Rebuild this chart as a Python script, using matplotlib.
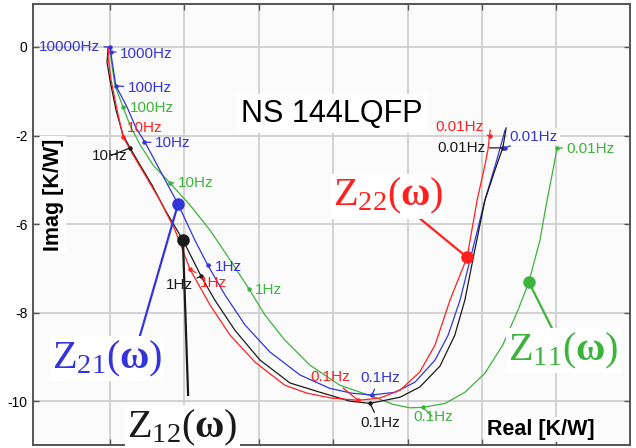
import matplotlib
matplotlib.use("Agg")
import matplotlib.pyplot as plt

plt.rcParams['font.family'] = ['Liberation Sans', 'DejaVu Sans']
plt.rcParams['mathtext.fontset'] = 'custom'
plt.rcParams['mathtext.rm'] = 'Liberation Serif'
plt.rcParams['mathtext.it'] = 'Liberation Serif:italic'
plt.rcParams['mathtext.bf'] = 'Liberation Serif:bold'

# ---- data: real / imaginary parts of the thermal impedances ----
z12_re = [-0.05, -0.08, 0.00, 0.16, 0.35, 0.54, 0.81, 1.13, 1.48, 1.96, 2.45, 2.82, 3.36, 4.03,
          4.84, 5.65, 6.45, 6.99, 7.80, 8.33, 8.87, 9.27, 9.54, 9.78, 10.08, 10.35, 10.56, 10.65]
z12_im = [-0.02, -0.34, -0.75, -1.42, -1.99, -2.28, -2.67, -3.12, -3.68, -4.36, -5.18, -5.72, -6.40, -7.07,
          -7.59, -7.80, -8.00, -8.05, -7.91, -7.68, -7.21, -6.51, -5.72, -4.70, -3.46, -2.78, -2.28, -1.83]

z22_re = [-0.03, -0.05, 0.03, 0.19, 0.35, 0.62, 0.94, 1.34, 1.75, 2.15, 2.69, 3.23, 3.90, 4.70,
          5.30, 5.95, 6.67, 7.26, 7.80, 8.33, 8.74, 9.14, 9.60, 9.87, 10.08, 10.16, 10.22]
z22_im = [0.00, -0.23, -0.75, -1.42, -2.03, -2.44, -2.89, -3.46, -4.14, -5.02, -5.83, -6.51, -7.12, -7.64,
          -7.82, -7.93, -7.98, -7.93, -7.75, -7.34, -6.73, -5.72, -4.75, -3.46, -2.67, -2.33, -1.88]

z21_re = [0.00, 0.05, 0.16, 0.46, 0.70, 0.94, 1.34, 1.83, 2.28, 2.63, 3.09, 3.63, 4.30, 5.11,
          5.91, 6.50, 7.04, 7.66, 8.20, 8.74, 9.09, 9.41, 9.68, 10.08, 10.40, 10.62]
z21_im = [0.00, -0.29, -0.88, -1.36, -1.83, -2.15, -2.78, -3.55, -4.36, -4.93, -5.60, -6.28, -6.89, -7.41,
          -7.71, -7.82, -7.86, -7.80, -7.57, -7.07, -6.51, -5.72, -4.81, -3.46, -2.55, -1.88]

z11_re = [0.00, 0.03, 0.13, 0.35, 0.56, 0.81, 1.16, 1.61, 2.15, 2.69, 3.23, 3.74, 4.17, 4.70, 5.38,
          6.18, 7.18, 7.60, 8.06, 8.41, 9.01, 9.54, 10.08, 10.56, 10.97, 11.26, 11.56, 11.75, 11.91, 12.02]
z11_im = [0.00, -0.29, -0.86, -1.36, -1.81, -2.21, -2.67, -3.07, -3.57, -4.14, -4.81, -5.47, -6.06, -6.62, -7.19,
          -7.64, -7.93, -8.07, -8.15, -8.14, -8.05, -7.80, -7.37, -6.73, -5.94, -5.31, -4.36, -3.46, -2.78, -2.28]

ytick_pos = [0, -2, -4, -6, -8]
ytick_labels = ['0', '-2', '-6', '-8', '-10']
xtick_pos = [0, 2, 4, 6, 8, 10, 12]

BLUE = '#3434dc'
RED = '#ff2020'
GREEN = '#3cb43c'
BLACK = '#1a1a1a'

# frequency markers: (text, colour, point, label position, horizontal alignment, white box)
freq_marks = [
    ('10000Hz', BLUE, (0.00, 0.00), (-0.27, 0.00), 'right', False),
    ('1000Hz', BLUE, (0.03, -0.11), (0.27, -0.16), 'left', False),
    ('100Hz', BLUE, (0.16, -0.88), (0.48, -0.93), 'left', False),
    ('100Hz', GREEN, (0.35, -1.36), (0.54, -1.38), 'left', False),
    ('10Hz', RED, (0.35, -2.03), (0.46, -1.83), 'left', False),
    ('10Hz', BLUE, (0.91, -2.15), (1.21, -2.17), 'left', False),
    ('10Hz', BLACK, (0.54, -2.28), (0.48, -2.46), 'right', False),
    ('10Hz', GREEN, (1.61, -3.07), (1.83, -3.07), 'left', False),
    ('1Hz', BLUE, (2.63, -4.93), (2.82, -4.97), 'left', False),
    ('1Hz', RED, (2.15, -5.02), (2.42, -5.33), 'left', False),
    ('1Hz', BLACK, (2.45, -5.18), (2.23, -5.38), 'right', False),
    ('1Hz', GREEN, (3.74, -5.47), (3.90, -5.49), 'left', False),
    ('0.1Hz', RED, (6.67, -7.98), (5.38, -7.46), 'left', False),
    ('0.1Hz', BLUE, (7.04, -7.86), (6.72, -7.48), 'left', False),
    ('0.1Hz', BLACK, (6.99, -8.05), (6.72, -8.50), 'left', False),
    ('0.1Hz', GREEN, (8.41, -8.14), (8.15, -8.36), 'left', False),
    ('0.01Hz', RED, (10.22, -2.01), (8.74, -1.81), 'left', False),
    ('0.01Hz', BLACK, (10.56, -2.28), (8.79, -2.28), 'left', False),
    ('0.01Hz', BLUE, (10.62, -2.28), (10.75, -2.03), 'left', True),
    ('0.01Hz', GREEN, (12.02, -2.28), (12.28, -2.31), 'left', False),
]

# impedance callouts: (label, colour, point on curve, leader end, text anchor)
callouts = [
    (r'$\mathrm{Z}_{\mathrm{21}}(\mathbf{\omega})$', BLUE, (1.83, -3.55), (0.81, -6.51), (-1.56, -7.25)),
    (r'$\mathrm{Z}_{\mathrm{12}}(\mathbf{\omega})$', BLACK, (1.96, -4.36), (2.10, -7.86), (0.46, -8.81)),
    (r'$\mathrm{Z}_{\mathrm{22}}(\mathbf{\omega})$', RED, (9.60, -4.75), (8.12, -3.73), (5.99, -3.59)),
    (r'$\mathrm{Z}_{\mathrm{11}}(\mathbf{\omega})$', GREEN, (11.26, -5.31), (11.88, -6.35), (10.70, -7.07)),
]

fig = plt.figure(figsize=(6.36, 4.48), dpi=100)
ax = fig.add_axes([33 / 636, 3 / 448, 597 / 636, 441 / 448])
ax.set_facecolor('#fbfbfb')

ax.set_xlim(-2.07, 13.98)
ax.set_ylim(-8.99, 0.97)
ax.set_xticks(xtick_pos)
ax.set_xticklabels([])
ax.set_yticks(ytick_pos)
ax.set_yticklabels(ytick_labels, fontsize=10)
ax.tick_params(direction='in', length=4, width=1, color='#555555',
               top=True, right=True, pad=4)
ax.grid(True, color='#cccccc', linewidth=1.2)
ax.set_axisbelow(True)
for s in ax.spines.values():
    s.set_color('#555555')
    s.set_linewidth(1.4)

line_style = dict(lw=0.9, zorder=3, solid_joinstyle='round')
ax.plot(z11_re, z11_im, color=GREEN, **line_style)
ax.plot(z21_re, z21_im, color=BLUE, **line_style)
ax.plot(z12_re, z12_im, color=BLACK, **line_style)
ax.plot(z22_re, z22_im, color=RED, **line_style)

for txt, col, pt, lab, ha, box in freq_marks:
    ax.plot(*pt, marker='o', ms=2.2, color=col, zorder=4)
    ax.annotate(txt, xy=pt, xytext=lab, ha=ha, va='center', color=col, fontsize=11,
                arrowprops=dict(arrowstyle='-', color=col, lw=0.9, shrinkA=1, shrinkB=0),
                bbox=dict(boxstyle='square,pad=0.1', fc='white', ec='none') if box else None,
                zorder=5)

for txt, col, pt, end, anchor in callouts:
    ax.plot([pt[0], end[0]], [pt[1], end[1]], color=col, lw=1.6, zorder=4)
    ax.plot(*pt, marker='o', ms=8, color=col, zorder=5)
    ax.text(anchor[0], anchor[1], txt, color=col, fontsize=29, ha='left', va='baseline',
            bbox=dict(boxstyle='square,pad=0.05', fc='white', ec='none'), zorder=6)

ax.text(5.97, -1.69, 'NS 144LQFP', fontsize=22, ha='center', va='baseline', color='black',
        bbox=dict(boxstyle='square,pad=0.15', fc='white', ec='none'), zorder=2)
ax.text(10.13, -8.77, 'Real [K/W]', fontsize=15.5, fontweight='bold', ha='left', va='baseline',
        bbox=dict(boxstyle='square,pad=0.1', fc='white', ec='none'), zorder=2)
ax.text(-1.53, -3.34, 'Imag [K/W]', fontsize=15.5, fontweight='bold', rotation=90,
        ha='center', va='center',
        bbox=dict(boxstyle='square,pad=0.1', fc='white', ec='none'), zorder=2)

fig.savefig('out.png', dpi=100, facecolor='white')
